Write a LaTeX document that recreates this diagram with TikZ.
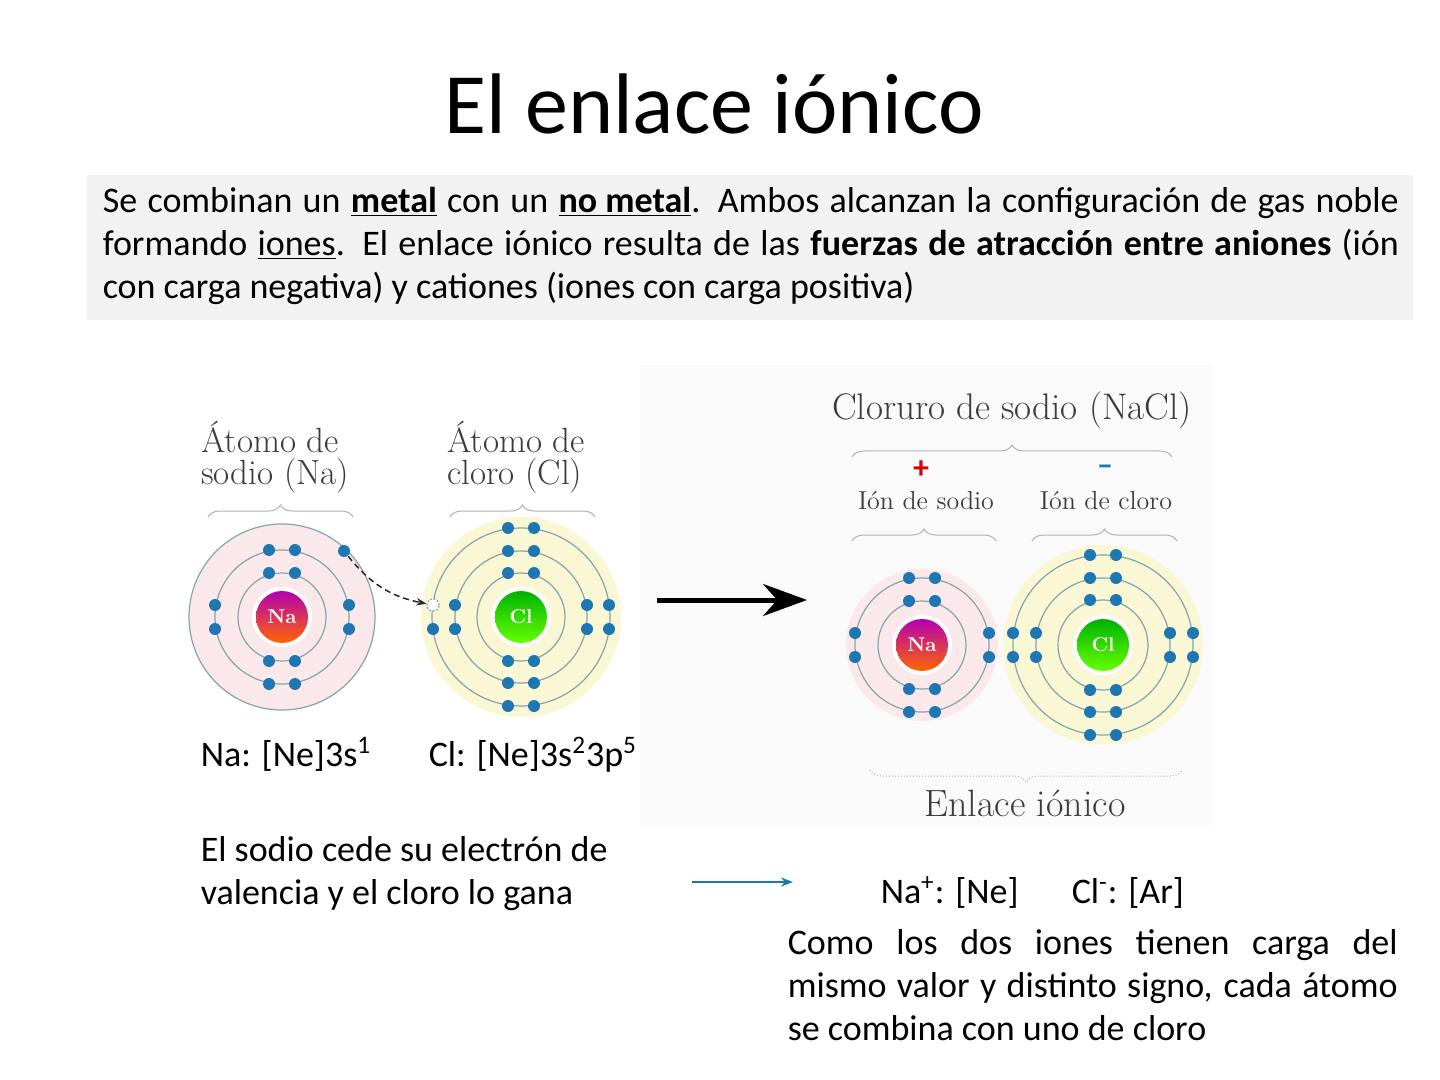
\documentclass[tikz,border=0pt]{standalone}
\usepackage{fontspec}
\setmainfont{Carlito}
\newfontfamily\serifatom{Latin Modern Roman}
\usetikzlibrary{arrows.meta,decorations.pathreplacing}
\definecolor{boxgray}{RGB}{242,242,242}
\definecolor{elecblue}{RGB}{30,118,178}
\definecolor{shellgray}{RGB}{130,165,175}
\definecolor{napink}{RGB}{250,232,234}
\definecolor{clyellow}{RGB}{250,248,212}
\definecolor{labgray}{RGB}{60,60,60}
\tikzset{every picture/.style={line width=0.75pt}}
\tikzset{
  electron/.style={circle,fill=elecblue,inner sep=0pt,minimum size=6pt},
  hole/.style={circle,draw=shellgray,densely dotted,fill=white,inner sep=0pt,minimum size=6pt},
  shell/.style={draw=shellgray,line width=0.6pt},
  nucleus/.style={circle,inner sep=0pt,minimum size=26pt,text=white,font=\serifatom\bfseries\fontsize{10}{10}\selectfont},
  atomlabel/.style={font=\serifatom\fontsize{17.5}{16}\selectfont,text=labgray,align=left},
  bodytext/.style={font=\fontsize{18}{21.5}\selectfont,anchor=base west,inner sep=0pt},
  curly/.style={draw=gray!60,line width=0.5pt,decorate,decoration={brace,amplitude=6pt}}
}
% electron pairs: top/bottom pairs and side pairs on a shell
\newcommand{\pairsTB}[3]{% center x, center y, radius
  \foreach \s in {-1,1}{\foreach \d in {-13,13}{\node[electron] at (#1+\d,#2+\s*#3) {};}}}
\newcommand{\pairsLR}[3]{%
  \foreach \s in {-1,1}{\foreach \d in {-12,12}{\node[electron] at (#1+\s*#3,#2+\d) {};}}}

\begin{document}
\begin{tikzpicture}[x=0.5pt,y=0.5pt,yscale=-1,xscale=1]
	\useasboundingbox (0,0) rectangle (1440,1080);
	\fill[white] (0,0) rectangle (1440,1080);
	
	% Title
	\node (title) at (714,104) {\fontsize{43}{43}\selectfont El enlace iónico};
	
	%Shape: Rectangle (intro box)
	\fill[boxgray] (87,175) rectangle (1413,320);
	\node[anchor=north west,inner sep=0pt,text width=648pt,align=justify,font=\fontsize{18}{21.5}\selectfont] (intro) at (102,186)
	{Se combinan un \textbf{\underline{metal}} con un \textbf{\underline{no metal}}. Ambos alcanzan la configuración de gas noble formando \underline{iones}. El enlace iónico resulta de las \textbf{fuerzas de atracción entre aniones} (ión con carga negativa) y cationes (iones con carga positiva)};
	
	%Shape: Rectangle (image panel)
	\fill[gray!4] (640,365) rectangle (1212,825);
	
	% ---- Na atom ----
	\fill[napink] (282,617) circle (93);
	\draw[shell] (282,617) circle (93);
	\draw[shell] (282,617) circle (67);
	\draw[shell] (282,617) circle (44);
	\fill[white] (282,617) circle (30);
	\node[nucleus,top color=magenta!70!black,bottom color=orange!80!red] (na) at (282,617) {Na};
	\pairsTB{282}{617}{44}
	\pairsTB{282}{617}{67}
	\pairsLR{282}{617}{67}
	\node[electron] (naval) at (344,551) {};
	
	% ---- Cl atom ----
	\fill[clyellow] (521,617) circle (100);
	\draw[shell] (521,617) circle (89);
	\draw[shell] (521,617) circle (66);
	\draw[shell] (521,617) circle (44);
	\fill[white] (521,617) circle (30);
	\node[nucleus,top color=green!70!black,bottom color=green!60!yellow] (cl) at (521,617) {Cl};
	\pairsTB{521}{617}{44}
	\pairsTB{521}{617}{66}
	\pairsTB{521}{617}{89}
	\pairsLR{521}{617}{66}
	\node[electron] at (433,629) {};
	\node[electron] at (609,605) {};
	\node[electron] at (609,629) {};
	\node[hole] (clhole) at (433,605) {};
	\draw[densely dashed,gray!30!black,-{Stealth[length=5pt]}] (naval) to[bend left=20] (clhole);
	
	% ---- Na ion ----
	\fill[napink] (922,645) circle (76);
	\draw[shell] (922,645) circle (67);
	\draw[shell] (922,645) circle (44);
	\fill[white] (922,645) circle (30);
	\node[nucleus,top color=magenta!70!black,bottom color=orange!80!red] (naion) at (922,645) {Na};
	\pairsTB{922}{645}{44}
	\pairsTB{922}{645}{67}
	\pairsLR{922}{645}{67}
	
	% ---- Cl ion ----
	\fill[clyellow] (1103,645) circle (100);
	\draw[shell] (1103,645) circle (90);
	\draw[shell] (1103,645) circle (67);
	\draw[shell] (1103,645) circle (45);
	\fill[white] (1103,645) circle (30);
	\node[nucleus,top color=green!70!black,bottom color=green!60!yellow] (clion) at (1103,645) {Cl};
	\pairsTB{1103}{645}{45}
	\pairsTB{1103}{645}{67}
	\pairsTB{1103}{645}{90}
	\pairsLR{1103}{645}{67}
	\pairsLR{1103}{645}{90}
	
	% Arrows
	\coordinate (bigstart) at (657,600);
	\coordinate (bigend) at (807,600);
	\draw[line width=2.5pt,-{Stealth[length=22pt,width=16pt]}] (bigstart) -- (bigend);
	\coordinate (bluestart) at (692,882);
	\coordinate (blueend) at (793,882);
	\draw[elecblue,line width=0.8pt,-{Stealth[length=6pt]}] (bluestart) -- (blueend);
	
	% Braces
	\draw[curly] (208,517) -- (353,517);
	\draw[curly] (450,517) -- (595,517);
	\draw[curly] (852,457) -- (1172,457);
	\draw[curly] (852,541) -- (996,541);
	\draw[curly] (1032,541) -- (1177,541);
	\draw[curly,densely dotted,decoration={mirror}] (870,770) -- (1182,770);
	
	% Text Node
	\node[atomlabel,anchor=north west] (nalab) at (194,414) {Átomo de\\sodio (Na)};
	% Text Node
	\node[atomlabel,anchor=north west] (cllab) at (440,414) {Átomo de\\cloro (Cl)};
	% Text Node
	\node[atomlabel,font=\serifatom\fontsize{18.5}{18}\selectfont] (nacl) at (1012,410) {Cloruro de sodio (NaCl)};
	% Text Node
	\node[text=red!85!black,font=\bfseries\fontsize{16}{16}\selectfont] (plus) at (921,470) {+};
	% Text Node
	\node[text=elecblue,font=\bfseries\fontsize{16}{16}\selectfont] (minus) at (1105,470) {\textendash};
	% Text Node
	\node[atomlabel,font=\serifatom\fontsize{13}{13}\selectfont] (naionlab) at (926,501) {Ión de sodio};
	% Text Node
	\node[atomlabel,font=\serifatom\fontsize{13}{13}\selectfont] (clionlab) at (1106,501) {Ión de cloro};
	% Text Node
	\node[atomlabel,font=\serifatom\fontsize{19}{19}\selectfont] (enlace) at (1025,803) {Enlace iónico};
	
	% Text Node
	\node[bodytext] (naconf) at (200,766) {Na: [Ne]3s\textsuperscript{1}};
	% Text Node
	\node[bodytext] (clconf) at (428,766) {Cl: [Ne]3s\textsuperscript{2}3p\textsuperscript{5}};
	% Text Node
	\node[bodytext,anchor=north west,align=left] (cede) at (200,836) {El sodio cede su electrón de\\valencia y el cloro lo gana};
	% Text Node
	\node[bodytext] (naion2) at (880,903) {Na\textsuperscript{+}: [Ne]};
	% Text Node
	\node[bodytext] (clion2) at (1071,903) {Cl\textsuperscript{-}: [Ar]};
	% Text Node
	\node[anchor=north west,inner sep=0pt,text width=305pt,align=justify,font=\fontsize{18}{21.5}\selectfont] (como) at (787,929)
	{Como los dos iones tienen carga del mismo valor y distinto signo, cada átomo se combina con uno de cloro};
	
\end{tikzpicture}
\end{document}
